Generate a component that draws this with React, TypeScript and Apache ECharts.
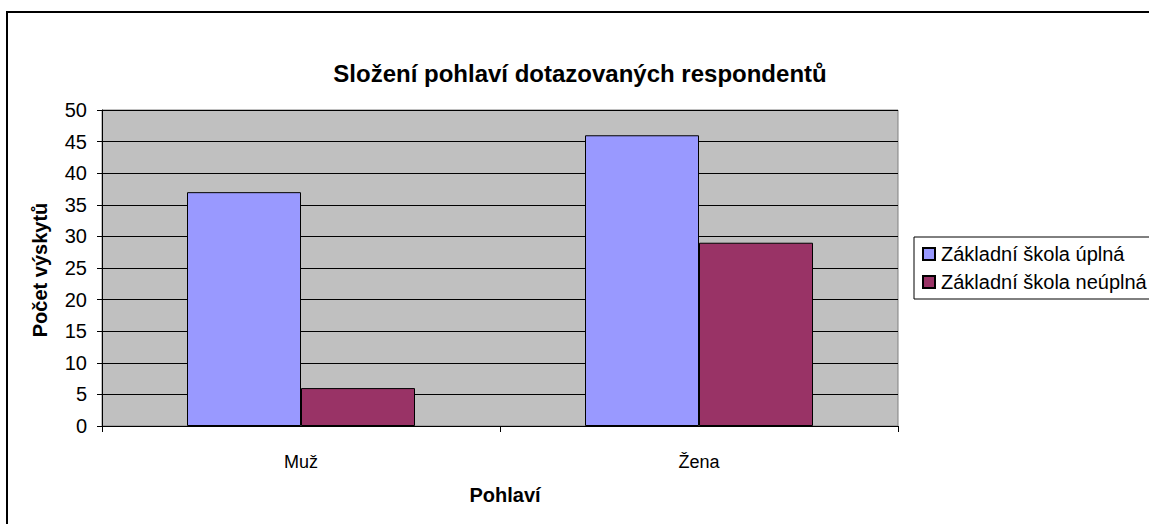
import React, { useEffect, useRef } from "react";
import * as echarts from "echarts";

const categories = ["Muž", "Žena"];
const seriesNames = ["Základní škola úplná", "Základní škola neúplná"];
const fullValues = [37, 46];
const partialValues = [6, 29];
const title = "Složení pohlaví dotazovaných respondentů";
const yAxisName = "Počet výskytů";
const xAxisName = "Pohlaví";

const FONT = "'Liberation Sans', Arial, sans-serif";

export default function App() {
  const ref = useRef<HTMLDivElement>(null);
  useEffect(() => {
    if (!ref.current) return;
    const chart = echarts.init(ref.current, undefined, { renderer: "svg" });
    chart.setOption({
      animation: false,
      backgroundColor: "#ffffff",
      textStyle: { fontFamily: FONT },
      graphic: [
        {
          type: "rect",
          shape: { x: 7, y: 12, width: 1300, height: 700 },
          style: { fill: "none", stroke: "#000", lineWidth: 2 },
          z: -1,
        },
        {
          type: "text",
          x: 580,
          y: 73,
          style: {
            text: title,
            font: `bold 24px ${FONT}`,
            fill: "#000",
            textAlign: "center",
            textVerticalAlign: "middle",
          },
        },
        {
          type: "text",
          x: 40,
          y: 270,
          rotation: Math.PI / 2,
          style: {
            text: yAxisName,
            font: `bold 20px ${FONT}`,
            fill: "#000",
            textAlign: "center",
            textVerticalAlign: "middle",
          },
        },
        {
          type: "text",
          x: 505,
          y: 495,
          style: {
            text: xAxisName,
            font: `bold 20px ${FONT}`,
            fill: "#000",
            textAlign: "center",
            textVerticalAlign: "middle",
          },
        },
      ],
      grid: {
        left: 102,
        top: 110,
        right: 251,
        bottom: 98,
        show: true,
        backgroundColor: "#C0C0C0",
        borderColor: "#808080",
        borderWidth: 1,
      },
      legend: {
        orient: "vertical",
        left: 914,
        top: 237,
        data: seriesNames,
        backgroundColor: "#fff",
        borderColor: "#000",
        borderWidth: 1,
        padding: [7, 60, 7, 8],
        itemWidth: 12,
        itemHeight: 12,
        itemGap: 8,
        icon: "rect",
        textStyle: { fontFamily: FONT, fontSize: 20, color: "#000", lineHeight: 20, padding: [0, 0, 0, 1] },
      },
      xAxis: {
        type: "category",
        data: categories,
        axisLine: { lineStyle: { color: "#000", width: 1 } },
        axisTick: { show: true, length: 6, lineStyle: { color: "#000" } },
        axisLabel: { fontFamily: FONT, fontSize: 18, color: "#000", margin: 27 },
      },
      yAxis: {
        type: "value",
        min: 0,
        max: 50,
        interval: 5,
        axisLine: { show: true, lineStyle: { color: "#000", width: 1 } },
        axisTick: { show: true, length: 5, lineStyle: { color: "#000" } },
        axisLabel: { fontFamily: FONT, fontSize: 20, color: "#000", margin: 15 },
        splitLine: { show: true, lineStyle: { color: "#000", width: 1 } },
      },
      series: [
        {
          name: seriesNames[0],
          type: "bar",
          data: fullValues,
          barWidth: 114,
          barGap: "0%",
          itemStyle: { color: "#9999FF", borderColor: "#000", borderWidth: 1 },
        },
        {
          name: seriesNames[1],
          type: "bar",
          data: partialValues,
          barWidth: 114,
          barGap: "0%",
          itemStyle: { color: "#993366", borderColor: "#000", borderWidth: 1 },
        },
      ],
    });
    return () => chart.dispose();
  }, []);
  return (
    <div
      ref={ref}
      style={{ position: "absolute", left: 0, top: 0, width: 1149, height: 524 }}
    />
  );
}
